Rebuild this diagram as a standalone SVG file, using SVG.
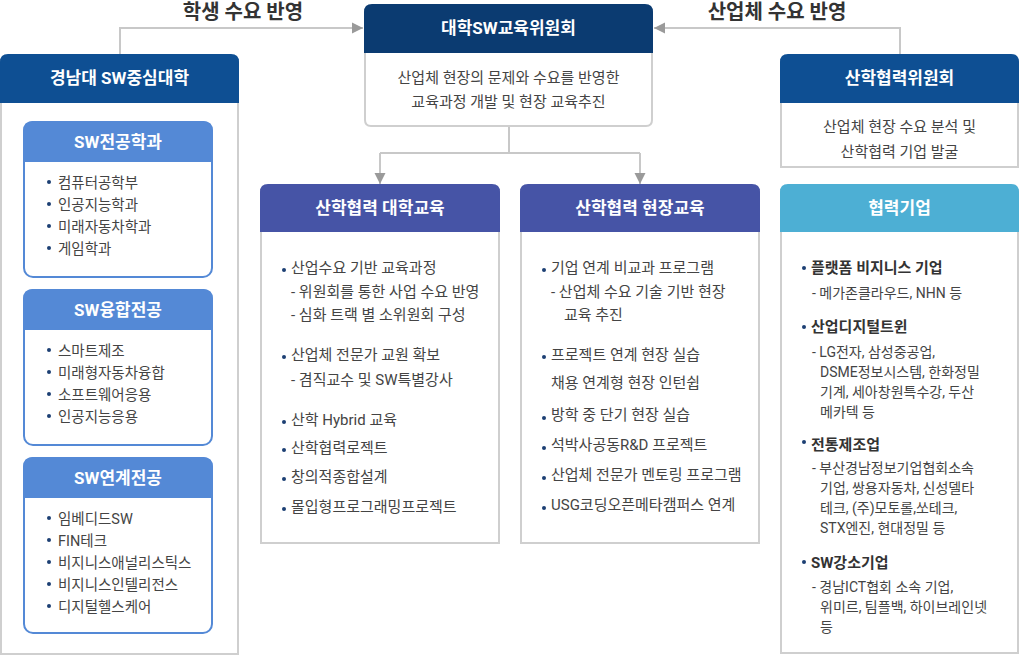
<svg xmlns="http://www.w3.org/2000/svg" width="1020" height="656" viewBox="0 0 1020 656">
<defs>
<marker id="arr" viewBox="0 0 10 10" refX="10" refY="5" markerWidth="11" markerHeight="12" markerUnits="userSpaceOnUse" orient="auto">
<path d="M0,0 L10,5 L0,10 Z" fill="#9a9a9a"/>
</marker>
<style>
text{font-family:Roboto,"Noto Sans CJK KR",sans-serif;}
.lbl{font-size:20px;font-weight:bold;fill:#333;text-anchor:middle;}
.ttl{font-size:17px;font-weight:bold;fill:#fff;text-anchor:middle;}
.left{font-size:14.5px;fill:#444;}
.body{font-size:15px;fill:#444;}
.ctr{font-size:15px;fill:#444;text-anchor:middle;}
.sm{font-size:14px;fill:#444;}
.bd{font-size:15px;font-weight:bold;fill:#333;}
.box{fill:#fff;stroke:#cfcfcf;stroke-width:2;}
.sub{fill:#fff;stroke:#5489d6;stroke-width:2;}
.dot{fill:#1c3f73;}
.conn{fill:none;stroke:#c8c8c8;stroke-width:2;}
</style>
</defs>
<rect width="1020" height="656" fill="#fff"/>

<g id="connectors">
<path class="conn" d="M120,54 V28 H363" marker-end="url(#arr)"/>
<path class="conn" d="M900,54 V28 H654" marker-end="url(#arr)"/>
<path class="conn" d="M509,127 V153 M380,153 H640"/>
<path class="conn" d="M380,153 V184" marker-end="url(#arr)"/>
<path class="conn" d="M640,153 V184" marker-end="url(#arr)"/>
<text class="lbl" x="243" y="19">학생 수요 반영</text>
<text class="lbl" x="777" y="19">산업체 수요 반영</text>
</g>

<g id="committee">
<path class="box" d="M365,52 V120 Q365,126 371,126 H646 Q652,126 652,120 V52"/>
<path d="M364,53 V12 Q364,4 372,4 H645 Q653,4 653,12 V53 Z" fill="#0b3b71"/>
<text class="ttl" x="508.5" y="34">대학SW교육위원회</text>
<text class="ctr" x="508.5" y="83">산업체 현장의 문제와 수요를 반영한</text>
<text class="ctr" x="508.5" y="107">교육과정 개발 및 현장 교육추진</text>
</g>

<g id="univ">
<rect class="box" x="1" y="60" width="237" height="594"/>
<path d="M0,103 V62 Q0,54 8,54 H231 Q239,54 239,62 V103 Z" fill="#0e4f93"/>
<text class="ttl" x="119.5" y="84">경남대 SW중심대학</text>
</g>

<g id="sw-major">
<rect class="sub" x="24" y="122" width="188" height="155" rx="9"/>
<path d="M23,162 V131 Q23,121 33,121 H203 Q213,121 213,131 V162 Z" fill="#5489d6"/>
<text class="ttl" x="118" y="148">SW전공학과</text>
<circle class="dot" cx="49" cy="182" r="2"/><text class="left" x="58" y="188">컴퓨터공학부</text>
<circle class="dot" cx="49" cy="204" r="2"/><text class="left" x="58" y="210">인공지능학과</text>
<circle class="dot" cx="49" cy="226" r="2"/><text class="left" x="58" y="232">미래자동차학과</text>
<circle class="dot" cx="49" cy="248" r="2"/><text class="left" x="58" y="254">게임학과</text>
</g>

<g id="sw-fusion">
<rect class="sub" x="24" y="290" width="188" height="155" rx="9"/>
<path d="M23,330 V299 Q23,289 33,289 H203 Q213,289 213,299 V330 Z" fill="#5489d6"/>
<text class="ttl" x="118" y="316">SW융합전공</text>
<circle class="dot" cx="49" cy="350" r="2"/><text class="left" x="58" y="356">스마트제조</text>
<circle class="dot" cx="49" cy="372" r="2"/><text class="left" x="58" y="378">미래형자동차융합</text>
<circle class="dot" cx="49" cy="394" r="2"/><text class="left" x="58" y="400">소프트웨어응용</text>
<circle class="dot" cx="49" cy="416" r="2"/><text class="left" x="58" y="422">인공지능응용</text>
</g>

<g id="sw-link">
<rect class="sub" x="24" y="458" width="188" height="175" rx="9"/>
<path d="M23,498 V467 Q23,457 33,457 H203 Q213,457 213,467 V498 Z" fill="#5489d6"/>
<text class="ttl" x="118" y="484">SW연계전공</text>
<circle class="dot" cx="49" cy="518" r="2"/><text class="left" x="58" y="524">임베디드SW</text>
<circle class="dot" cx="49" cy="540" r="2"/><text class="left" x="58" y="546">FIN테크</text>
<circle class="dot" cx="49" cy="562" r="2"/><text class="left" x="58" y="568">비지니스애널리스틱스</text>
<circle class="dot" cx="49" cy="584" r="2"/><text class="left" x="58" y="590">비지니스인텔리전스</text>
<circle class="dot" cx="49" cy="606" r="2"/><text class="left" x="58" y="612">디지털헬스케어</text>
</g>

<g id="ind-edu">
<rect class="box" x="261" y="190" width="238" height="353"/>
<path d="M260,232 V192 Q260,184 268,184 H492 Q500,184 500,192 V232 Z" fill="#4654a6"/>
<text class="ttl" x="380" y="214">산학협력 대학교육</text>
<circle class="dot" cx="284" cy="270" r="2"/><text class="body" x="291" y="273">산업수요 기반 교육과정</text>
<text class="body" x="291" y="297">- 위원회를 통한 사업 수요 반영</text>
<text class="body" x="291" y="320">- 심화 트랙 별 소위원회 구성</text>
<circle class="dot" cx="284" cy="357" r="2"/><text class="body" x="291" y="360">산업체 전문가 교원 확보</text>
<text class="body" x="291" y="385">- 겸직교수 및 SW특별강사</text>
<circle class="dot" cx="284" cy="422" r="2"/><text class="body" x="291" y="425">산학 Hybrid 교육</text>
<circle class="dot" cx="284" cy="450" r="2"/><text class="body" x="291" y="453">산학협력로젝트</text>
<circle class="dot" cx="284" cy="479" r="2"/><text class="body" x="291" y="482">창의적종합설계</text>
<circle class="dot" cx="284" cy="509" r="2"/><text class="body" x="291" y="512">몰입형프로그래밍프로젝트</text>
</g>

<g id="field-edu">
<rect class="box" x="521" y="190" width="238" height="353"/>
<path d="M520,232 V192 Q520,184 528,184 H752 Q760,184 760,192 V232 Z" fill="#4654a6"/>
<text class="ttl" x="640" y="214">산학협력 현장교육</text>
<circle class="dot" cx="544" cy="270" r="2"/><text class="body" x="551" y="273">기업 연계 비교과 프로그램</text>
<text class="body" x="551" y="297">- 산업체 수요 기술 기반 현장</text>
<text class="body" x="564" y="320">교육 추진</text>
<circle class="dot" cx="544" cy="357" r="2"/><text class="body" x="551" y="360">프로젝트 연계 현장 실습</text>
<text class="body" x="551" y="388">채용 연계형 현장 인턴쉽</text>
<circle class="dot" cx="544" cy="418" r="2"/><text class="body" x="551" y="420">방학 중 단기 현장 실습</text>
<circle class="dot" cx="544" cy="448" r="2"/><text class="body" x="551" y="450">석박사공동R&amp;D 프로젝트</text>
<circle class="dot" cx="544" cy="478" r="2"/><text class="body" x="551" y="480">산업체 전문가 멘토링 프로그램</text>
<circle class="dot" cx="544" cy="508" r="2"/><text class="body" x="551" y="510">USG코딩오픈메타캠퍼스 연계</text>
</g>

<g id="ind-committee">
<rect class="box" x="781" y="60" width="237" height="107"/>
<path d="M780,103 V62 Q780,54 788,54 H1011 Q1019,54 1019,62 V103 Z" fill="#0e4f93"/>
<text class="ttl" x="899.5" y="84">산학협력위원회</text>
<text class="ctr" x="899.5" y="132">산업체 현장 수요 분석 및</text>
<text class="ctr" x="899.5" y="157">산학협력 기업 발굴</text>
</g>

<g id="partners">
<rect class="box" x="781" y="190" width="237" height="463"/>
<path d="M780,232 V192 Q780,184 788,184 H1011 Q1019,184 1019,192 V232 Z" fill="#4dafd4"/>
<text class="ttl" x="899.5" y="214">협력기업</text>
<circle class="dot" cx="804" cy="268" r="2"/><text class="bd" x="811" y="273">플랫폼 비지니스 기업</text>
<text class="sm" x="812" y="298">- 메가존클라우드, NHN 등</text>
<circle class="dot" cx="804" cy="327" r="2"/><text class="bd" x="811" y="332">산업디지털트윈</text>
<text class="sm" x="812" y="357">- LG전자, 삼성중공업,</text>
<text class="sm" x="820" y="377">DSME정보시스템, 한화정밀</text>
<text class="sm" x="820" y="397">기계, 세아창원특수강, 두산</text>
<text class="sm" x="820" y="417">메카텍 등</text>
<circle class="dot" cx="804" cy="442" r="2"/><text class="bd" x="811" y="450">전통제조업</text>
<text class="sm" x="812" y="473">- 부산경남정보기업협회소속</text>
<text class="sm" x="820" y="493">기업, 쌍용자동차, 신성델타</text>
<text class="sm" x="820" y="513">테크, (주)모토롤,쏘테크,</text>
<text class="sm" x="820" y="533">STX엔진, 현대정밀 등</text>
<circle class="dot" cx="804" cy="562" r="2"/><text class="bd" x="811" y="568">SW강소기업</text>
<text class="sm" x="812" y="592">- 경남ICT협회 소속 기업,</text>
<text class="sm" x="820" y="612">위미르, 팀플백, 하이브레인넷</text>
<text class="sm" x="820" y="632">등</text>
</g>
</svg>
